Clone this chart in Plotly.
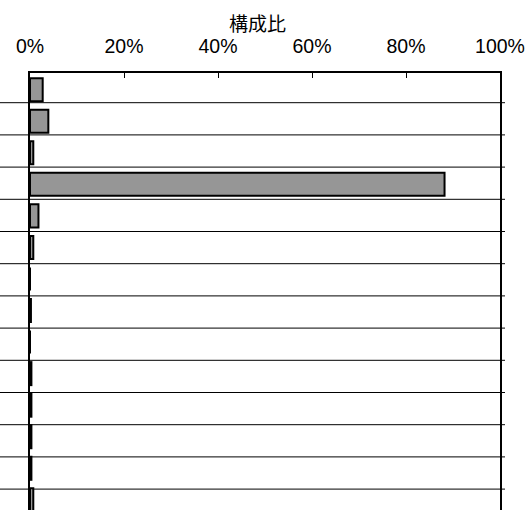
import plotly.graph_objects as go

categories = [f"項目{i}" for i in range(1, 15)]
shares = [2.7, 3.9, 0.7, 88.2, 1.8, 0.7, 0.0, 0.2, 0.0, 0.3, 0.3, 0.3, 0.3, 0.7]
tick_vals = [0, 20, 40, 60, 80, 100]
tick_text = ["0%", "20%", "40%", "60%", "80%", "100%"]
title_text = "構成比"

W, H = 526, 510
L, R, T, B = 30, 26, 73, 0
pw = W - L - R
ph = H - T - B
row_px = 31.55          # spacing of bar rows in pixels
rule_first, rule_step, n_rules = 102.7, 32.2, 13   # background table rules

fig = go.Figure()
fig.add_trace(go.Bar(
    y=categories, x=shares, orientation="h", width=0.73,
    marker=dict(color="#969696", line=dict(color="black", width=2)),
))

shapes = []
for k in range(n_rules):
    ypix = rule_first + rule_step * k
    yp = 1 - (ypix - T) / ph
    shapes.append(dict(type="line", xref="paper", yref="paper",
                       x0=-L / pw, x1=(pw + 5) / pw, y0=yp, y1=yp,
                       line=dict(color="black", width=1), layer="below"))

top_rng = -0.5 - 0.9 / row_px
fig.update_layout(
    width=W, height=H,
    margin=dict(l=L, r=R, t=T, b=B, pad=0, autoexpand=False),
    plot_bgcolor="white", paper_bgcolor="white",
    showlegend=False,
    font=dict(family="Liberation Sans", size=19.5, color="black"),
    xaxis=dict(side="top", range=[0, 100], tickvals=tick_vals, ticktext=tick_text,
               ticks="inside", ticklen=5, tickcolor="black", tickwidth=1,
               showline=True, linecolor="black", linewidth=2, automargin=False,
               showgrid=False, zeroline=False, ticklabelstandoff=10,
               ticklabeloverflow="allow"),
    yaxis=dict(categoryorder="array", categoryarray=categories,
               range=[top_rng + ph / row_px, top_rng], automargin=False,
               showticklabels=False, ticks="", showgrid=False, zeroline=False,
               showline=True, mirror=True, linecolor="black", linewidth=2),
    shapes=shapes,
    annotations=[dict(text=title_text, xref="paper", yref="paper",
                      x=(257 - L) / pw, y=1 + (T - 22.5) / ph,
                      xanchor="center", yanchor="middle", showarrow=False,
                      font=dict(family="Noto Sans CJK JP", size=19))],
)

fig.write_html("out.html", config={"displayModeBar": False},
               post_script="document.body.style.margin='0';")
